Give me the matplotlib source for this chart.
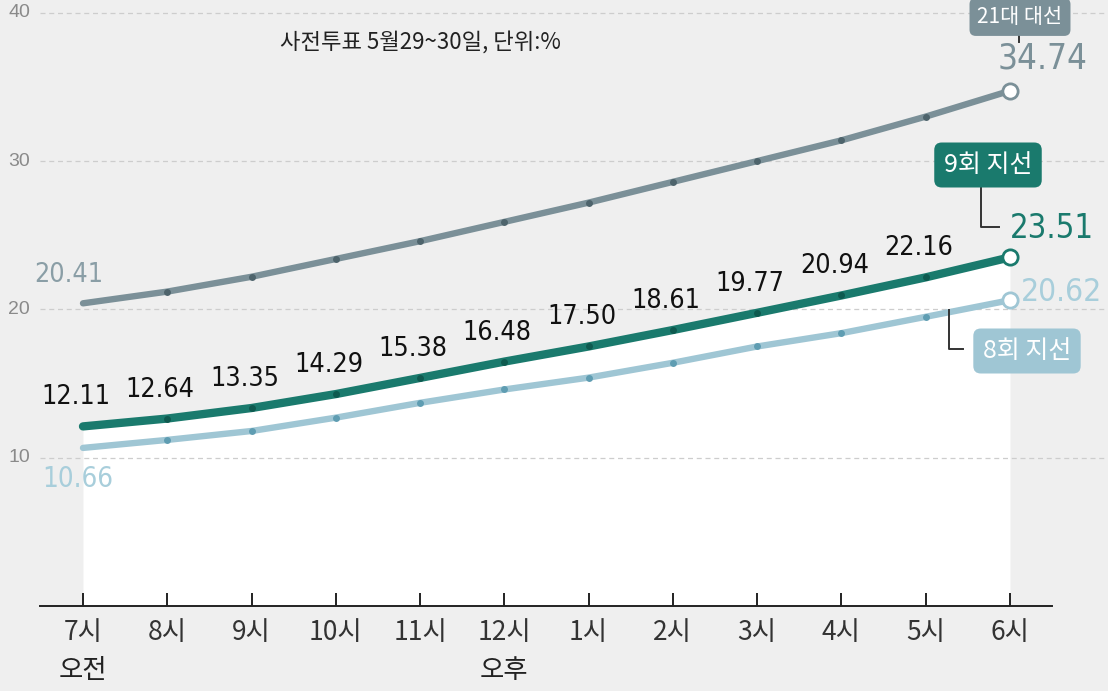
import numpy as np
import matplotlib
matplotlib.use("Agg")
import matplotlib.pyplot as plt
from matplotlib import font_manager
from matplotlib.font_manager import FontProperties
from matplotlib.textpath import TextPath

# data (cumulative early-vote turnout, %)
hours = ["7시", "8시", "9시", "10시", "11시", "12시", "1시", "2시", "3시", "4시", "5시", "6시"]
pres21 = [20.41, 21.2, 22.2, 23.4, 24.6, 25.9, 27.2, 28.6, 30.0, 31.4, 33.0, 34.74]
local9 = [12.11, 12.64, 13.35, 14.29, 15.38, 16.48, 17.50, 18.61, 19.77, 20.94, 22.16, 23.51]
local8 = [10.66, 11.2, 11.8, 12.7, 13.7, 14.6, 15.4, 16.4, 17.5, 18.4, 19.5, 20.62]
yticks = [10, 20, 30, 40]

KR = ["Noto Sans CJK KR", "DejaVu Sans"]


def narrow_font():
    # look for a condensed / narrow face for the numbers
    best = None
    for f in font_manager.fontManager.ttflist:
        key = (f.name + " " + f.fname).lower()
        if f.style != "normal" or f.weight not in (400, "normal", "regular"):
            continue
        if "bold" in key or "italic" in key or "light" in key or "black" in key:
            continue
        narrow = ("narrow" in key or "condensed" in key
                  or str(f.stretch) in ("condensed", "semi-condensed", "extra-condensed"))
        if not narrow or "mono" in key or "serif" in key and "sans" not in key:
            continue
        rank = 0 if "liberation" in key else 1 if "noto" in key else 2 if "dejavu" in key else 3
        if "extra" in key or "semi" in key:
            rank += 0.5
        if best is None or rank < best[0]:
            best = (rank, f.fname)
    if best:
        return FontProperties(fname=best[1])
    return FontProperties(family=["Roboto", "DejaVu Sans"])


NUMFP = narrow_font()
w1 = TextPath((0, 0), "12.64", size=1, prop=NUMFP).get_extents().width
base = 65 / (w1 * 100 / 72)

bg = "#efefef"
c_gray, c_gray_dot, c_gray_txt = "#7b9098", "#4e646c", "#8a9ea6"
c_teal, c_teal_dot = "#1a7a6d", "#0e5a4f"
c_blue, c_blue_dot, c_blue_txt = "#9fc6d4", "#5f9db2", "#a8cedb"

W, H = 1108, 691
fig = plt.figure(figsize=(W / 100, H / 100), dpi=100, facecolor=bg)
ax = fig.add_axes([0, 0, 1, 1])
ax.set_facecolor(bg)

# pixel mapping of the reference layout
x0px, dxpx = 83, 84.27
y0px, dypx = 606, 14.83
ax.set_xlim(-x0px / dxpx, (W - x0px) / dxpx)
ax.set_ylim(-(H - y0px) / dypx, y0px / dypx)
ax.axis("off")


def P(px, py):
    return (px - x0px) / dxpx, (y0px - py) / dypx


def num(xv, yv, s, scale, color):
    ax.text(xv, yv, s, ha="center", va="center", fontproperties=NUMFP,
            fontsize=base * scale, color=color, zorder=7)


x = np.arange(len(hours))

# white area under 9th local election line
ax.fill_between(x, 0, local9, color="white", zorder=1, lw=0)

# grid
xl = P(40, 0)[0]
for t in yticks:
    ax.plot([xl, ax.get_xlim()[1]], [t, t], ls=(0, (4, 3)), color="#cdcdcd", lw=0.9, zorder=2)
    ax.text(P(19, 0)[0], t, str(t), ha="center", va="center", fontsize=14,
            color="#8a8a8a", family=["Liberation Sans", "DejaVu Sans"])

# x axis
ax.plot([xl, P(1052, 0)[0]], [0, 0], color="#222222", lw=1.4, zorder=3)
ax.vlines(x, 0, 0.85, color="#222222", lw=1.4, zorder=3)
for i, h in enumerate(hours):
    ax.text(i, P(0, 632)[1], h, ha="center", va="center", fontsize=19,
            color="#333333", family=KR)
ax.text(0, P(0, 671)[1], "오전", ha="center", va="center", fontsize=19, color="#222222", family=KR)
ax.text(5, P(0, 671)[1], "오후", ha="center", va="center", fontsize=19, color="#222222", family=KR)

# lines
for ys, c, cd, lw in [(pres21, c_gray, c_gray_dot, 4.6),
                      (local8, c_blue, c_blue_dot, 4.6),
                      (local9, c_teal, c_teal_dot, 6.0)]:
    ax.plot(x, ys, color=c, lw=lw, solid_capstyle="round", zorder=4)
    ax.plot(x[1:-1], ys[1:-1], "o", color=cd, ms=5, mew=0, zorder=5)
    ax.plot(x[-1], ys[-1], "o", mfc="white", mec=c, ms=11, mew=2, zorder=6)

# value labels of 9th local election
for i, v in enumerate(local9[:-1]):
    num(i - 7 / dxpx, v + 29 / dypx, f"{v:.2f}", 1.0, "#111111")

num(-14 / dxpx, pres21[0] + 28 / dypx, f"{pres21[0]:.2f}", 1.0, c_gray_txt)
num(-5 / dxpx, local8[0] - 31 / dypx, f"{local8[0]:.2f}", 1.03, c_blue_txt)
num(11 + 33 / dxpx, pres21[-1] + 32 / dypx, f"{pres21[-1]:.2f}", 1.3, c_gray)
num(11 + 42 / dxpx, local9[-1] + 29 / dypx, f"{local9[-1]:.2f}", 1.22, c_teal)
num(11 + 52 / dxpx, local8[-1] + 8 / dypx, f"{local8[-1]:.2f}", 1.18, c_blue_txt)


# series tags
def tag(cx, cy, s, fc, fs=18):
    ax.text(*P(cx, cy), s, ha="center", va="center", fontsize=fs, color="white",
            family=KR, zorder=8,
            bbox=dict(boxstyle="round,pad=0.38,rounding_size=0.3", fc=fc, ec="none"))


tag(1020, 17, "21대 대선", c_gray, fs=15)
tag(988, 165, "9회 지선", c_teal)
tag(1027, 351, "8회 지선", c_blue)

ax.plot(*zip(P(1019, 36), P(1019, 42)), color="#333333", lw=1.4, zorder=7)
ax.plot(*zip(P(981, 186), P(981, 227), P(999, 227)), color="#333333", lw=1.4, zorder=7)
ax.plot(*zip(P(949, 310), P(949, 349), P(963, 349)), color="#333333", lw=1.4, zorder=7)

ax.text(*P(420, 42), "사전투표 5월29~30일, 단위:%", ha="center", va="center",
        fontsize=16, color="#222222", family=KR)

fig.savefig("out.png", dpi=100, facecolor=bg)
